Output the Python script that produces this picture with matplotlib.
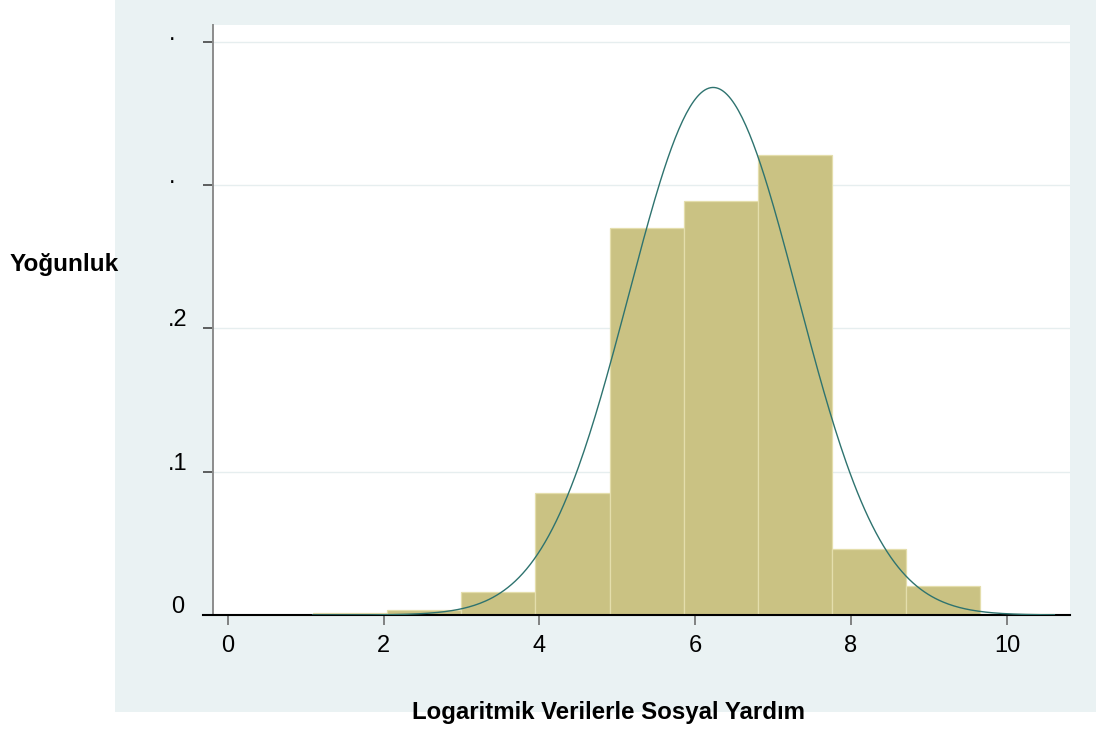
import matplotlib.pyplot as plt
import matplotlib.transforms as mtransforms
import numpy as np

plt.rcParams['font.family'] = ['Liberation Sans', 'DejaVu Sans']

# histogram bins (log of social assistance) and density heights
bin_edges = [1.09, 2.04, 2.99, 3.95, 4.90, 5.85, 6.80, 7.76, 8.71, 9.66, 10.61]
density = [0.0016, 0.0035, 0.016, 0.085, 0.270, 0.289, 0.321, 0.046, 0.020, 0.0006]

# fitted normal
mu = 6.23
sigma = 1.084

x_ticks = [0, 2, 4, 6, 8, 10]
y_ticks = [0, 0.1, 0.2, 0.3, 0.4]
y_tick_labels = ["0", ".1", ".2", ".", "."]

panel_col = '#EAF2F3'
bar_col = '#CAC283'
bar_edge = '#E4DEAC'
curve_col = '#2E736F'

fig = plt.figure(figsize=(11, 7.36), dpi=100)
panel = plt.Rectangle((115 / 1100, 24 / 736), 981 / 1100, 712 / 736,
                      transform=fig.transFigure, fc=panel_col, ec='none', zorder=-10)
fig.add_artist(panel)

ax = fig.add_axes([213 / 1100, 121 / 736, 857 / 1100, 590 / 736])
ax.set_facecolor('white')

lefts = np.array(bin_edges[:-1])
widths = np.diff(bin_edges)
ax.bar(lefts, density, width=widths, align='edge', color=bar_col,
       edgecolor=bar_edge, linewidth=0.9, zorder=2)

xs = np.linspace(bin_edges[0], bin_edges[-1], 400)
ys = np.exp(-0.5 * ((xs - mu) / sigma) ** 2) / (sigma * np.sqrt(2 * np.pi))
ax.plot(xs, ys, color=curve_col, lw=1.0, zorder=3)

ax.set_xlim(-0.189, 10.81)
ax.set_ylim(0, 0.4116)

for sp in ['top', 'right']:
    ax.spines[sp].set_visible(False)
ax.spines['left'].set_color('#8C8C8C')
ax.spines['left'].set_linewidth(1.4)
ax.spines['bottom'].set_color('black')
ax.spines['bottom'].set_linewidth(1.5)
ax.spines['bottom'].set_bounds(-0.189 - 10 / 77.9, 10.81)
ax.spines['bottom'].set_clip_on(False)

for y in y_ticks[1:]:
    ax.axhline(y, color='#E6EEEF', lw=1.0, zorder=1)

ax.set_xticks(x_ticks)
ax.set_xticklabels([str(v) for v in x_ticks], fontsize=17)
ax.tick_params(axis='x', length=7.5, width=1.2, color='#6E6E6E', pad=7)

ax.set_yticks(y_ticks)
ax.set_yticklabels([])
ax.tick_params(axis='y', length=7.5, width=1.2, color='#444444')

# y tick labels centred left of the axis
trans = mtransforms.blended_transform_factory(fig.transFigure, ax.transData)
trans = trans + mtransforms.ScaledTranslation(0, 2 / 100, fig.dpi_scale_trans)
for y, lab in zip(y_ticks, y_tick_labels):
    xpos = 177.5 / 1100 if lab != "." else 172 / 1100
    ax.text(xpos, y, lab, transform=trans, ha='center', va='baseline', fontsize=17)

fig.text(10 / 1100, 1 - 264 / 736, 'Yoğunluk', ha='left', va='center',
         fontsize=17.5, fontweight='bold')
fig.text(609 / 1100, 1 - 719 / 736, 'Logaritmik Verilerle Sosyal Yardım',
         ha='center', va='baseline', fontsize=17.3, fontweight='bold')

fig.savefig('out.png', dpi=100)
